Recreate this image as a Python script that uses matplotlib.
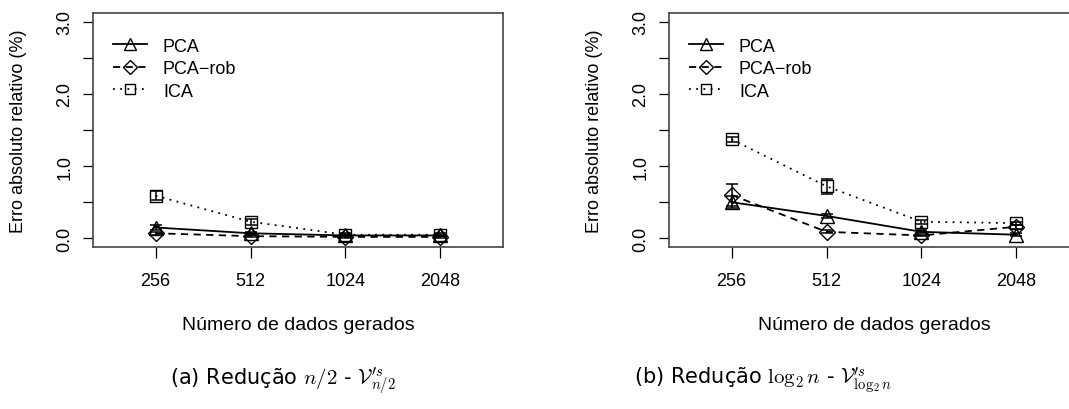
import matplotlib
matplotlib.use("Agg")
import matplotlib.pyplot as plt
import numpy as np

plt.rcParams['font.family'] = ['Liberation Sans', 'DejaVu Sans']
plt.rcParams['mathtext.fontset'] = 'cm'

# ---- data ----
x_labels = ['256', '512', '1024', '2048']
series_names = ['PCA', 'PCA\u2212rob', 'ICA']

pca_a = [0.15, 0.07, 0.04, 0.04]
pcarob_a = [0.07, 0.03, 0.02, 0.02]
ica_a = [0.59, 0.23, 0.05, 0.05]
pca_a_err = [0.03, 0.02, 0.01, 0.01]
pcarob_a_err = [0.02, 0.01, 0.01, 0.01]
ica_a_err = [0.06, 0.04, 0.02, 0.02]

pca_b = [0.50, 0.31, 0.09, 0.05]
pcarob_b = [0.60, 0.09, 0.04, 0.16]
ica_b = [1.37, 0.72, 0.23, 0.21]
pca_b_err = [0.08, 0.03, 0.02, 0.02]
pcarob_b_err = [0.15, 0.02, 0.01, 0.03]
ica_b_err = [0.03, 0.10, 0.03, 0.02]

y_ticks = [0, 0.5, 1.0, 1.5, 2.0, 2.5, 3.0]
y_ticklabels = ['0.0', '', '1.0', '', '2.0', '', '3.0']

xlabel = 'Número de dados gerados'
ylabel = 'Erro absoluto relativo (%)'
caption_a = r"(a) Redução $n/2$ - $\mathcal{V}^{\prime s}_{n/2}$"
caption_b = r"(b) Redução $\log_2 n$ - $\mathcal{V}^{\prime s}_{\log_2 n}$"

W, H = 1069, 410
fig = plt.figure(figsize=(W / 100, H / 100), dpi=100)

styles = [
    dict(ls='-', marker='^', ms=10),
    dict(ls=(0, (4, 3)), marker='D', ms=8),
    dict(ls=(0, (1, 3)), marker='s', ms=8),
]

fs = 13


def panel(left_px, data, errs):
    ax = fig.add_axes([left_px / W, (H - 248) / H, 410 / W, 234 / H])
    xs = np.arange(1, len(x_labels) + 1)
    for name, vals, err, st in zip(series_names, data, errs, styles):
        ax.errorbar(xs, vals, yerr=err, fmt='none', ecolor='black',
                    elinewidth=1.1, capsize=4.5, capthick=1.1)
        ax.plot(xs, vals, color='black', lw=1.3, ls=st['ls'],
                marker=st['marker'], ms=st['ms'], mfc='none', mec='black',
                mew=1.0, label=name)
    ax.set_xlim(0.34, 4.66)
    ax.set_ylim(-0.12, 3.12)
    ax.set_xticks(xs)
    ax.set_xticklabels(x_labels, fontsize=fs)
    ax.set_yticks(y_ticks)
    ax.set_yticklabels(y_ticklabels, fontsize=fs, rotation=90, va='center')
    ax.tick_params(axis='x', direction='out', length=8, width=0.9, pad=10)
    ax.tick_params(axis='y', direction='out', length=7, width=0.9, pad=7)
    for s in ax.spines.values():
        s.set_color('#444444')
        s.set_linewidth(1.2)
    ax.set_ylabel(ylabel, fontsize=fs)
    ax.yaxis.set_label_coords(-0.162, 0.5)
    ax.legend(loc='upper left', frameon=False, fontsize=fs,
              handlelength=1.85, handletextpad=0.9, labelspacing=0.3,
              borderaxespad=0.0, bbox_to_anchor=(0.032, 0.925),
              markerscale=0.85)
    return ax


ax1 = panel(93, [pca_a, pcarob_a, ica_a], [pca_a_err, pcarob_a_err, ica_a_err])
ax2 = panel(669, [pca_b, pcarob_b, ica_b], [pca_b_err, pcarob_b_err, ica_b_err])

fig.text(298 / W, 1 - 326 / H, xlabel, ha='center', va='center', fontsize=14)
fig.text(874 / W, 1 - 326 / H, xlabel, ha='center', va='center', fontsize=14)

fig.text(283 / W, 1 - 381 / H, caption_a, ha='center', va='center',
         fontsize=15, family='DejaVu Sans')
fig.text(763 / W, 1 - 381 / H, caption_b, ha='center', va='center',
         fontsize=15, family='DejaVu Sans')

fig.savefig('out.png', dpi=100)
